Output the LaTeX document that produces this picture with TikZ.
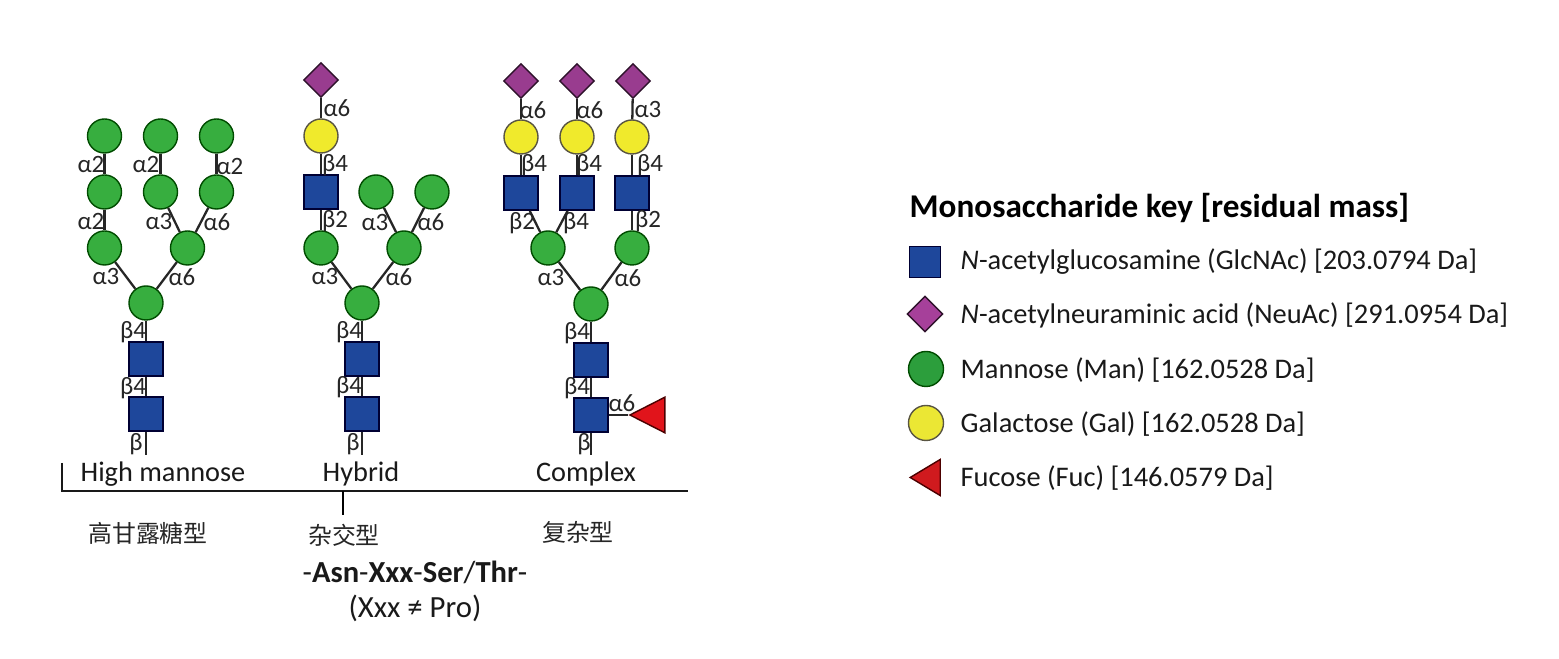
\documentclass[tikz,border=0pt]{standalone}
\usepackage{fontspec}
\setmainfont{Carlito}
\newfontfamily\cjk{Noto Sans CJK SC}
\usetikzlibrary{shapes.geometric}
\definecolor{glcblue}{HTML}{1E479B}
\definecolor{manGreen}{HTML}{37AE3F}
\definecolor{galYellow}{HTML}{F0EA2C}
\definecolor{neuPurple}{HTML}{993C8F}
\definecolor{fucRed}{HTML}{E1141B}
\definecolor{keyGreen}{HTML}{2C9E3C}
\definecolor{keyYellow}{HTML}{EBE734}
\definecolor{keyPurple}{HTML}{A6409A}
\definecolor{keyRed}{HTML}{D01A1E}
\tikzset{
  glcnac/.style={draw=black!80!blue, line width=0.5pt, fill=glcblue, minimum size=0.34cm, inner sep=0pt},
  man/.style={circle, draw=green!30!black, line width=0.4pt, fill=manGreen, minimum size=0.34cm, inner sep=0pt},
  gal/.style={circle, draw=black!75!yellow, line width=0.4pt, fill=galYellow, minimum size=0.34cm, inner sep=0pt},
  neuac/.style={diamond, draw=black!70!neuPurple, line width=0.4pt, fill=neuPurple, minimum size=0.35cm, inner sep=0pt},
  fuc/.style={isosceles triangle, isosceles triangle apex angle=54, shape border rotate=180, draw=black!70!red, line width=0.4pt, fill=fucRed, minimum height=0.35cm, inner sep=0pt},
  bond/.style={line width=0.65pt, black!85},
  link/.style={font=\fontsize{7.1}{8}\selectfont, text=black!85, inner sep=0pt},
  typelabel/.style={font=\fontsize{8.05}{10}\selectfont, text=black!90, inner sep=0pt},
  cjklabel/.style={font=\cjk\fontsize{6.8}{8}\selectfont, text=black!85, inner sep=0pt},
  keytext/.style={anchor=west, font=\fontsize{8.08}{10}\selectfont, text=black!90, inner sep=0pt}
}
\begin{document}
\begin{tikzpicture}[x=0.01cm, y=-0.01cm]
  \useasboundingbox (0,0) rectangle (1559,659);
  % high mannose
  \node[man] (h1) at (104.5,136) {};
  \node[man] (h2) at (160.5,136) {};
  \node[man] (h3) at (216.5,136) {};
  \node[man] (h4) at (104.5,192) {};
  \node[man] (h5) at (160.5,192) {};
  \node[man] (h6) at (216.5,192) {};
  \node[man] (h7) at (104.5,248) {};
  \node[man] (h8) at (187.5,248) {};
  \node[man] (h9) at (146,303) {};
  \node[glcnac] (h10) at (146,359) {};
  \node[glcnac] (h11) at (146,414) {};
  \coordinate (h12) at (146,455);
  \draw[bond] (h1) -- (h4);
  \draw[bond] (h2) -- (h5);
  \draw[bond] (h3) -- (h6);
  \draw[bond] (h4) -- (h7);
  \draw[bond] (h5) -- (h8);
  \draw[bond] (h6) -- (h8);
  \draw[bond] (h7) -- (h9);
  \draw[bond] (h8) -- (h9);
  \draw[bond] (h9) -- (h10);
  \draw[bond] (h10) -- (h11);
  \draw[bond] (h11) -- (h12);
  \node[link] (hl1) at (91,165) {α2};
  \node[link] (hl2) at (146,165) {α2};
  \node[link] (hl3) at (230,167) {α2};
  \node[link] (hl4) at (91,222) {α2};
  \node[link] (hl5) at (159,222) {α3};
  \node[link] (hl6) at (217,222) {α6};
  \node[link] (hl7) at (106,277) {α3};
  \node[link] (hl8) at (182,277) {α6};
  \node[link] (hl9) at (133,332) {β4};
  \node[link] (hl10) at (133,388) {β4};
  \node[link] (hl11) at (136,444) {β};
  % hybrid
  \node[neuac] (y1) at (321,80) {};
  \node[gal] (y2) at (321,136) {};
  \node[glcnac] (y3) at (321,192) {};
  \node[man] (y4) at (321,248) {};
  \node[man] (y5) at (376,192) {};
  \node[man] (y6) at (432,192) {};
  \node[man] (y7) at (404,248) {};
  \node[man] (y8) at (362,303) {};
  \node[glcnac] (y9) at (362,359) {};
  \node[glcnac] (y10) at (362,414) {};
  \coordinate (y11) at (362,455);
  \draw[bond] (y1) -- (y2);
  \draw[bond] (y2) -- (y3);
  \draw[bond] (y3) -- (y4);
  \draw[bond] (y4) -- (y8);
  \draw[bond] (y5) -- (y7);
  \draw[bond] (y6) -- (y7);
  \draw[bond] (y7) -- (y8);
  \draw[bond] (y8) -- (y9);
  \draw[bond] (y9) -- (y10);
  \draw[bond] (y10) -- (y11);
  \node[link] (yl1) at (337,108) {α6};
  \node[link] (yl2) at (335,165) {β4};
  \node[link] (yl3) at (335,221) {β2};
  \node[link] (yl4) at (375,223) {α3};
  \node[link] (yl5) at (431,222) {α6};
  \node[link] (yl6) at (325,277) {α3};
  \node[link] (yl7) at (399,277) {α6};
  \node[link] (yl8) at (349,332) {β4};
  \node[link] (yl9) at (349,387) {β4};
  \node[link] (yl10) at (353,444) {β};
  % complex
  \node[neuac] (c1) at (521,81) {};
  \node[neuac] (c2) at (577,81) {};
  \node[neuac] (c3) at (633,81) {};
  \node[gal] (c4) at (521,137) {};
  \node[gal] (c5) at (577,137) {};
  \node[gal] (c6) at (632,137) {};
  \node[glcnac] (c7) at (521,193) {};
  \node[glcnac] (c8) at (577,193) {};
  \node[glcnac] (c9) at (632,193) {};
  \node[man] (c10) at (548,248) {};
  \node[man] (c11) at (632,248) {};
  \node[man] (c12) at (591,304) {};
  \node[glcnac] (c13) at (591,360) {};
  \node[glcnac] (c14) at (591,415) {};
  \node[fuc] (c15) at (654,415) {};
  \coordinate (c16) at (591,455);
  \draw[bond] (c1) -- (c4);
  \draw[bond] (c2) -- (c5);
  \draw[bond] (c3) -- (c6);
  \draw[bond] (c4) -- (c7);
  \draw[bond] (c5) -- (c8);
  \draw[bond] (c6) -- (c9);
  \draw[bond] (c7) -- (c10);
  \draw[bond] (c8) -- (c10);
  \draw[bond] (c9) -- (c11);
  \draw[bond] (c10) -- (c12);
  \draw[bond] (c11) -- (c12);
  \draw[bond] (c12) -- (c13);
  \draw[bond] (c13) -- (c14);
  \draw[bond] (c14) -- (c16);
  \draw[bond] (c14) -- (c15);
  \node[link] (cl1) at (533,110) {α6};
  \node[link] (cl2) at (590,110) {α6};
  \node[link] (cl3) at (648,110) {α3};
  \node[link] (cl4) at (534,165) {β4};
  \node[link] (cl5) at (589,165) {β4};
  \node[link] (cl6) at (650,165) {β4};
  \node[link] (cl7) at (522,223) {β2};
  \node[link] (cl8) at (576,223) {β4};
  \node[link] (cl9) at (648,221) {β2};
  \node[link] (cl10) at (551,278) {α3};
  \node[link] (cl11) at (628,278) {α6};
  \node[link] (cl12) at (577,333) {β4};
  \node[link] (cl13) at (577,388) {β4};
  \node[link] (cl14) at (584,444) {β};
  \node[link] (cl15) at (622,403) {α6};
  % type names and sequon
  \node[typelabel] (thigh) at (163,474) {High mannose};
  \node[typelabel] (thyb) at (361,474) {Hybrid};
  \node[typelabel] (tcom) at (586,474) {Complex};
  \coordinate (b1) at (62,463);
  \coordinate (b2) at (62,491);
  \coordinate (b3) at (688,491);
  \coordinate (b4) at (343,491);
  \coordinate (b5) at (343,515);
  \draw[line width=0.45pt, black!90] (b1) -- (b2) -- (b3);
  \draw[line width=0.65pt, black] (b4) -- (b5);
  \node[cjklabel] (zhigh) at (148,533) {高甘露糖型};
  \node[cjklabel] (zhyb) at (344,535) {杂交型};
  \node[cjklabel] (zcom) at (578,532) {复杂型};
  \node[typelabel, font=\fontsize{8.7}{10}\selectfont] (seq) at (415,572) {-\textbf{Asn}-\textbf{Xxx}-\textbf{Ser}/\textbf{Thr}-};
  \node[typelabel, font=\fontsize{8.75}{10}\selectfont] (xxx) at (415,608) {(Xxx ≠ Pro)};
  % key
  \node[anchor=west, inner sep=0pt, font=\bfseries\fontsize{9.44}{11}\selectfont] (keyt) at (909,208) {Monosaccharide key [residual mass]};
  \node[glcnac, fill=glcblue, minimum size=0.31cm] (k1) at (925,262) {};
  \node[neuac, fill=keyPurple, minimum size=0.36cm] (k2) at (925,314) {};
  \node[man, fill=keyGreen, minimum size=0.35cm] (k3) at (926,369) {};
  \node[gal, fill=keyYellow, minimum size=0.35cm] (k4) at (926,423) {};
  \node[fuc, fill=keyRed, minimum height=0.30cm, isosceles triangle apex angle=62] (k5) at (930,477.5) {};
  \node[keytext] (kt1) at (960,262) {\textit{N}-acetylglucosamine (GlcNAc) [203.0794 Da]};
  \node[keytext] (kt2) at (960,315) {\textit{N}-acetylneuraminic acid (NeuAc) [291.0954 Da]};
  \node[keytext] (kt3) at (960,370) {Mannose (Man) [162.0528 Da]};
  \node[keytext] (kt4) at (960,424) {Galactose (Gal) [162.0528 Da]};
  \node[keytext] (kt5) at (960,478) {Fucose (Fuc) [146.0579 Da]};
\end{tikzpicture}
\end{document}
